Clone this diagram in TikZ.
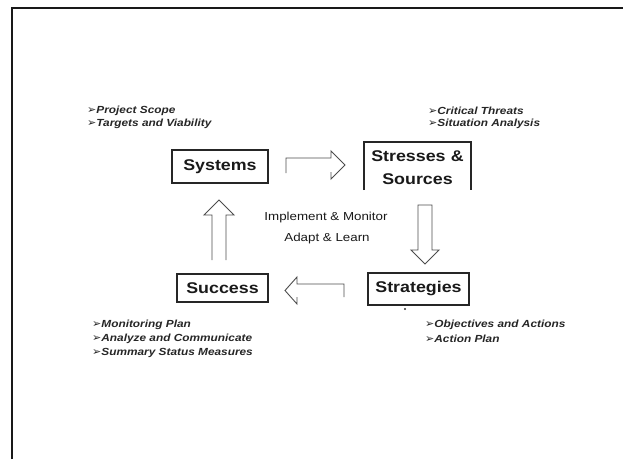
\documentclass[tikz,border=0pt]{standalone}
\usepackage{fontspec}
\setmainfont{Liberation Sans}
\newfontfamily\widefont[FakeStretch=1.15]{Liberation Sans}
\newfontfamily\arrfont{DejaVu Sans}
\newcommand{\bul}{{\arrfont\fontsize{11}{12}\selectfont ➢}}
\begin{document}
\begin{tikzpicture}[x=1pt,y=-1pt,
  box/.style={draw=black!85,line width=1.2pt,inner sep=0pt},
  lbl/.style={font=\widefont\bfseries\fontsize{15.5}{18}\selectfont,text=black!90,align=center},
  bl/.style={anchor=west,inner sep=0pt,font=\widefont\bfseries\itshape\fontsize{10.3}{12}\selectfont,text=black!85},
  mid/.style={font=\widefont\fontsize{11.6}{14}\selectfont,text=black!90},
  blk/.style={draw=black!70,line width=0.9pt,line join=miter}]
\useasboundingbox (0,0) rectangle (623,459);
% frame
\draw[line width=2pt,black!90] (12,459) -- (12,8) -- (623,8);
% boxes
\draw[box] (172,150) rectangle (268,183);
\node[lbl] (sys) at (220,166.5) {Systems};
\draw[box] (364,190) -- (364,142) -- (471,142) -- (471,190);
\node[lbl,text width=110pt] (str) at (417.5,168) {Stresses \&\\[5pt]Sources};
\draw[box] (177,274) rectangle (268,302);
\node[lbl] (suc) at (222.5,288) {Success};
\draw[box] (368,273) rectangle (469,305);
\node[lbl] (stg) at (418.5,289) {Strategies};
\fill[black!80] (405,309) circle (1.1);
% block arrows
\draw[blk] (286,173) -- (286,158) -- (331,158) -- (331,151) -- (345,165) -- (331,179) -- (331,172);
\draw[blk] (418,205) -- (432,205) -- (432,250) -- (439,250) -- (425,264) -- (411,250) -- (418,250) -- cycle;
\draw[blk] (344,297) -- (344,284) -- (297,284) -- (297,277) -- (285,290.5) -- (297,304) -- (297,297);
\draw[blk] (212,260) -- (212,215) -- (204,215) -- (219,200) -- (234,215) -- (226,215) -- (226,260);
% centre text
\node[mid] (imp) at (326,217) {Implement \& Monitor};
\node[mid] (ada) at (327,238) {Adapt \& Learn};
% bullets
\node[bl] (b1) at (87,110.5) {\bul Project Scope};
\node[bl] (b2) at (87,124) {\bul Targets and Viability};
\node[bl] (b3) at (428,110.5) {\bul Critical Threats};
\node[bl] (b4) at (428,124) {\bul Situation Analysis};
\node[bl] (b5) at (92,325) {\bul Monitoring Plan};
\node[bl] (b6) at (92,339) {\bul Analyze and Communicate};
\node[bl] (b7) at (92,353) {\bul Summary Status Measures};
\node[bl] (b8) at (425,325) {\bul Objectives and Actions};
\node[bl] (b9) at (425,339) {\bul Action Plan};
\end{tikzpicture}
\end{document}
